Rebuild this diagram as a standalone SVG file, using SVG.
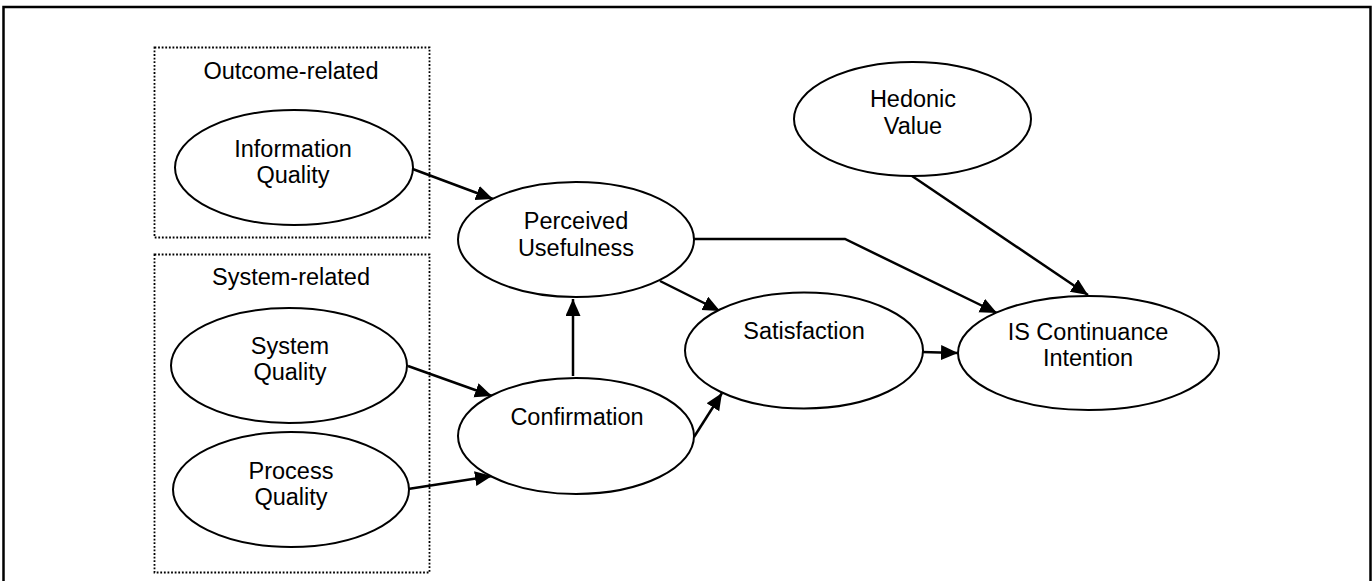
<svg xmlns="http://www.w3.org/2000/svg" width="1372" height="581" viewBox="0 0 1372 581">
<style>
.bg{fill:#fff}
.frame{fill:none;stroke:#000;stroke-width:2.5}
.grp{fill:none;stroke:#000;stroke-width:1.8;stroke-dasharray:1.8 1.8}
.node{fill:#fff;stroke:#000;stroke-width:2}
.lbl{font-family:"Liberation Sans",Arial,sans-serif;font-size:23.5px;fill:#000;text-anchor:middle}
.edge{fill:none;stroke:#000;stroke-width:2.5}
</style>
<defs>
<marker id="arr" markerUnits="userSpaceOnUse" markerWidth="19" markerHeight="17" refX="17" refY="7.5" orient="auto">
<path d="M0,0 L17,7.5 L0,15 z" fill="#000"/>
</marker>
</defs>
<rect class="bg" x="0" y="0" width="1372" height="581"/>
<rect class="frame" x="3.5" y="7" width="1367" height="600"/>

<g id="group-outcome">
<rect class="grp" x="154.5" y="47.5" width="275" height="190"/>
<text class="lbl" x="291" y="79">Outcome-related</text>
</g>
<g id="group-system">
<rect class="grp" x="154.5" y="254.5" width="275" height="318"/>
<text class="lbl" x="291" y="285">System-related</text>
</g>

<g id="connectors">
<line class="edge" x1="410" y1="168" x2="493" y2="199" marker-end="url(#arr)"/>
<line class="edge" x1="408" y1="366" x2="492" y2="396" marker-end="url(#arr)"/>
<line class="edge" x1="408" y1="489" x2="492" y2="476" marker-end="url(#arr)"/>
<line class="edge" x1="573" y1="376" x2="573" y2="299" marker-end="url(#arr)"/>
<line class="edge" x1="694" y1="437" x2="722" y2="393" marker-end="url(#arr)"/>
<line class="edge" x1="660" y1="281" x2="720" y2="311" marker-end="url(#arr)"/>
<polyline class="edge" points="694,239 845,239 997,313" marker-end="url(#arr)"/>
<line class="edge" x1="912" y1="176" x2="1088" y2="295" marker-end="url(#arr)"/>
<line class="edge" x1="922" y1="352" x2="958" y2="353" marker-end="url(#arr)"/>
</g>

<g id="information-quality">
<ellipse class="node" cx="294" cy="167.5" rx="119" ry="57.5"/>
<text class="lbl" x="293" y="157">Information</text>
<text class="lbl" x="293" y="183">Quality</text>
</g>
<g id="system-quality">
<ellipse class="node" cx="289" cy="365.5" rx="118" ry="57.5"/>
<text class="lbl" x="290" y="354">System</text>
<text class="lbl" x="290" y="380">Quality</text>
</g>
<g id="process-quality">
<ellipse class="node" cx="291" cy="489.5" rx="118" ry="57.5"/>
<text class="lbl" x="291" y="479">Process</text>
<text class="lbl" x="291" y="505">Quality</text>
</g>
<g id="perceived-usefulness">
<ellipse class="node" cx="576" cy="239.5" rx="118" ry="57.5"/>
<text class="lbl" x="576" y="229">Perceived</text>
<text class="lbl" x="576" y="256">Usefulness</text>
</g>
<g id="confirmation">
<ellipse class="node" cx="576" cy="436" rx="118" ry="58"/>
<text class="lbl" x="577" y="425">Confirmation</text>
</g>
<g id="satisfaction">
<ellipse class="node" cx="804" cy="350.5" rx="119" ry="58"/>
<text class="lbl" x="804" y="339">Satisfaction</text>
</g>
<g id="hedonic-value">
<ellipse class="node" cx="912.5" cy="119" rx="118.5" ry="57"/>
<text class="lbl" x="913" y="107">Hedonic</text>
<text class="lbl" x="913" y="134">Value</text>
</g>
<g id="is-continuance-intention">
<ellipse class="node" cx="1088.5" cy="353" rx="130.5" ry="57"/>
<text class="lbl" x="1088" y="340">IS Continuance</text>
<text class="lbl" x="1088" y="366">Intention</text>
</g>
</svg>
